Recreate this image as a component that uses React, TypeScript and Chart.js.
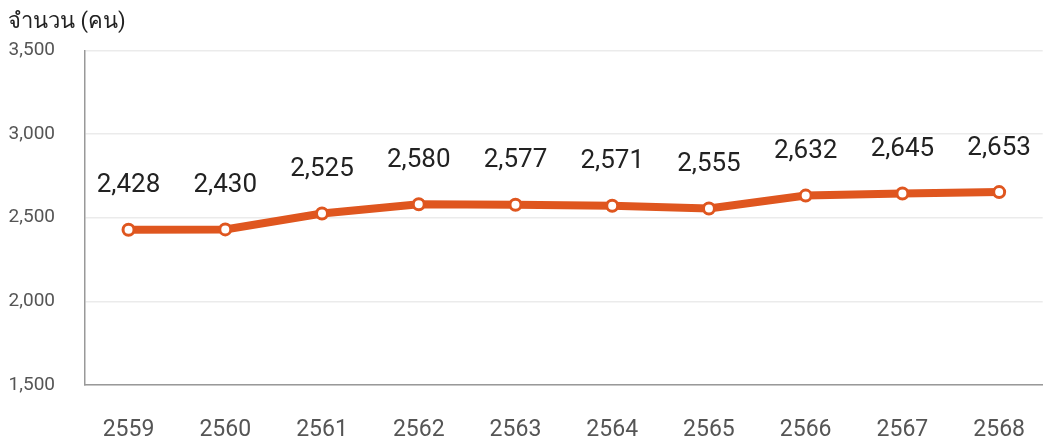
import React, { useEffect, useRef } from "react";
import { Chart, registerables } from "chart.js";

Chart.register(...registerables);

const years = ["2559", "2560", "2561", "2562", "2563", "2564", "2565", "2566", "2567", "2568"];
const counts = [2428, 2430, 2525, 2580, 2577, 2571, 2555, 2632, 2645, 2653];
const yTicks = [1500, 2000, 2500, 3000, 3500];
const axisTitle = "จำนวน (คน)";

const FONT = "Roboto, 'Noto Sans', sans-serif";
const ORANGE = "#DF561F";

const valueLabels = {
  id: "valueLabels",
  afterDatasetsDraw(chart: any) {
    const ctx = chart.ctx;
    const meta = chart.getDatasetMeta(0);
    ctx.save();
    ctx.font = `26px ${FONT}`;
    ctx.fillStyle = "#222222";
    ctx.textAlign = "center";
    ctx.textBaseline = "middle";
    meta.data.forEach((pt: any, i: number) => {
      ctx.fillText(counts[i].toLocaleString("en-US"), pt.x, pt.y - 44);
    });
    ctx.restore();
  },
};

export default function App() {
  const ref = useRef<HTMLCanvasElement>(null);
  useEffect(() => {
    document.body.style.margin = "0";
    document.documentElement.style.overflow = "hidden";
    const chart = new Chart(ref.current!, {
      type: "line",
      data: {
        datasets: [
          {
            data: counts.map((v, i) => ({ x: i, y: v })),
            borderColor: ORANGE,
            borderWidth: 8,
            backgroundColor: "#ffffff",
            pointBackgroundColor: "#ffffff",
            pointBorderColor: ORANGE,
            pointBorderWidth: 3,
            pointRadius: 5.5,
            tension: 0,
          },
        ],
      },
      options: {
        animation: false,
        responsive: false,
        layout: { autoPadding: false, padding: { left: 8, right: 0, top: 9, bottom: 0 } },
        plugins: {
          legend: { display: false },
          tooltip: { enabled: false },
          title: {
            display: true,
            text: axisTitle,
            align: "start",
            color: "#222222",
            font: { family: FONT, size: 22, weight: "normal" },
            padding: { top: 0, bottom: 15 },
          },
        },
        scales: {
          x: {
            type: "linear",
            min: -0.45,
            max: years.length - 1 + 0.45,
            afterBuildTicks: (axis: any) => {
              axis.ticks = years.map((_, i) => ({ value: i }));
            },
            grid: { display: false, drawTicks: false },
            border: { display: true, color: "#999999", width: 1.5 },
            ticks: {
              color: "#555555",
              font: { family: FONT, size: 23 },
              padding: 31,
              maxRotation: 0,
              minRotation: 0,
              autoSkip: false,
              callback: (v: any) => years[Math.round(Number(v))] ?? "",
            },
            afterFit: (axis: any) => {
              axis.height = 58;
            },
          },
          y: {
            min: 1500,
            max: 3500,
            afterBuildTicks: (axis: any) => {
              axis.ticks = yTicks.map((v) => ({ value: v }));
            },
            grid: { color: "#ebebeb", lineWidth: 1.5, drawTicks: false },
            border: { display: true, color: "#999999", width: 1.5 },
            ticks: {
              color: "#555555",
              font: { family: FONT, size: 19 },
              padding: 30,
              callback: (v: any) => Number(v).toLocaleString("en-US"),
            },
            afterFit: (axis: any) => {
              axis.width = 77;
            },
          },
        },
      },
      plugins: [valueLabels],
    });
    return () => chart.destroy();
  }, []);
  return (
    <div style={{ width: 1056, height: 443 }}>
      <canvas ref={ref} width={1056} height={443} style={{ display: "block" }} />
    </div>
  );
}
